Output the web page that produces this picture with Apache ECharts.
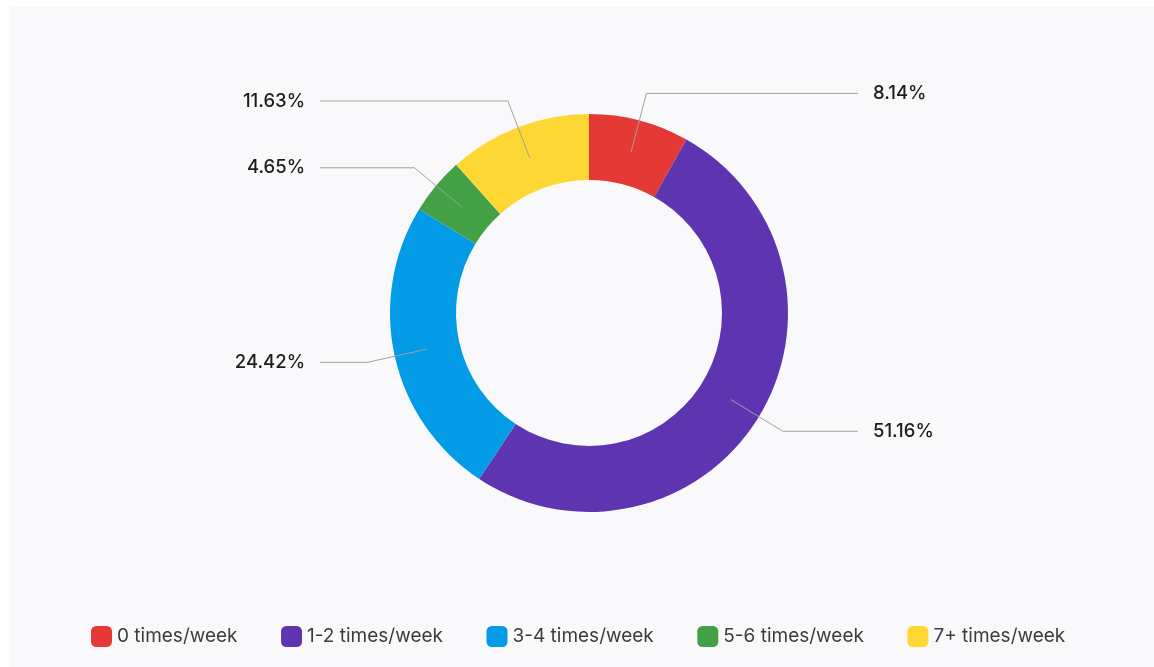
<!DOCTYPE html>
<html>
<head>
<meta charset="utf-8">
<script src="https://cdn.jsdelivr.net/npm/echarts@6/dist/echarts.min.js"></script>
<style>
  html, body { margin: 0; padding: 0; background: #ffffff; }
  #panel { position: absolute; left: 9px; top: 7px; width: 1145px; height: 660px; background: #f9f9fb; }
  #chart { position: absolute; left: 0; top: 0; width: 1154px; height: 667px; }
</style>
</head>
<body>
<div id="panel"></div>
<div id="chart"></div>
<script>
const categories = ['0 times/week', '1-2 times/week', '3-4 times/week', '5-6 times/week', '7+ times/week'];
const counts = [7, 44, 21, 4, 10];
const colors = ['#e53935', '#5e35b1', '#039be5', '#43a047', '#fdd835'];

const CX = 589, CY = 313, R_IN = 133, R_OUT = 199;
const LINE_HALF = 269;   // horizontal distance of label line ends from centre
const LABEL_GAP = 15;

const chart = echarts.init(document.getElementById('chart'), null, { renderer: 'canvas' });

const pieData = categories.map((name, i) => ({ name: name, value: counts[i] }));

const option = {
  animation: false,
  color: colors,
  legend: {
    left: 91,
    top: 626,
    padding: 0,
    icon: 'roundRect',
    itemWidth: 21,
    itemHeight: 21,
    itemGap: 43.5,
    textStyle: { fontFamily: 'Inter', fontSize: 19, color: '#3c3c3c' },
    data: categories
  },
  series: [{
    type: 'pie',
    z: 2,
    center: [CX, CY],
    radius: [R_IN, R_OUT],
    startAngle: 90,
    clockwise: true,
    avoidLabelOverlap: false,
    itemStyle: { borderWidth: 0 },
    label: { show: false },
    labelLine: { show: false },
    data: pieData
  }, {
    type: 'pie',
    z: 5,
    silent: true,
    center: [CX, CY],
    radius: [R_IN, R_OUT],
    startAngle: 90,
    clockwise: true,
    avoidLabelOverlap: false,
    itemStyle: { color: 'rgba(0,0,0,0)', borderWidth: 0 },
    label: {
      show: true,
      position: 'outside',
      formatter: '{d}%',
      fontFamily: 'Inter',
      fontSize: 18.5,
      fontWeight: 500,
      color: '#1c1c1c',
      distanceToLabelLine: LABEL_GAP
    },
    labelLine: {
      show: true,
      showAbove: true,
      length: 28,
      length2: 40,
      smooth: false,
      lineStyle: { color: '#a0a0a0', width: 1 }
    },
    labelLayout: function (params) {
      const pts = params.labelLinePoints;
      if (!pts) return {};
      const p0 = pts[0];
      const k = ((R_IN + R_OUT) / 2) / R_OUT;
      const np0 = [CX + (p0[0] - CX) * k, CY + (p0[1] - CY) * k];
      const isLeft = pts[1][0] < CX;
      const endX = isLeft ? CX - LINE_HALF : CX + LINE_HALF;
      const newPts = [np0, [pts[1][0], pts[1][1]], [endX, pts[1][1]]];
      return {
        x: isLeft ? endX - LABEL_GAP : endX + LABEL_GAP,
        y: pts[1][1],
        align: isLeft ? 'right' : 'left',
        verticalAlign: 'middle',
        labelLinePoints: newPts
      };
    },
    data: pieData
  }]
};

chart.setOption(option);
</script>
</body>
</html>
